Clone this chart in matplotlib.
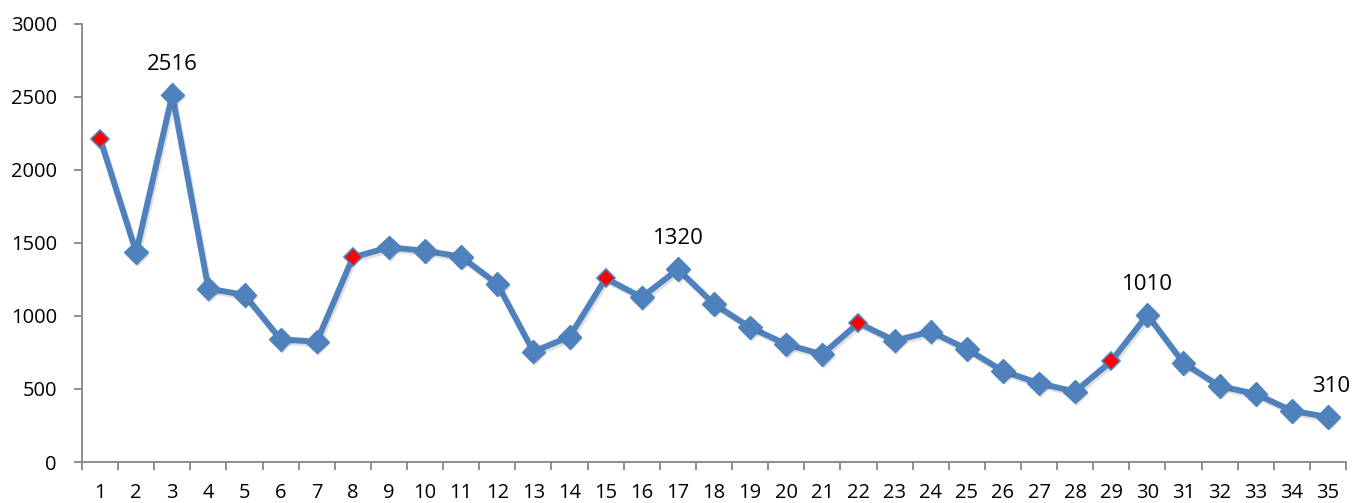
import matplotlib
matplotlib.use("Agg")
import matplotlib.pyplot as plt
import matplotlib.patheffects as pe
import numpy as np

categories = list(range(1, 36))
values = [2215, 1436, 2516, 1187, 1145, 840, 824, 1402, 1470, 1447,
          1406, 1219, 756, 858, 1258, 1128, 1320, 1082, 922, 806,
          737, 952, 831, 893, 774, 623, 539, 482, 690, 1008,
          678, 520, 466, 351, 308]
red_points = [1, 8, 15, 22, 29]
labeled_points = {3: "2516", 17: "1320", 30: "1010", 35: "310"}
yticks = [0, 500, 1000, 1500, 2000, 2500, 3000]

plt.rcParams['font.family'] = ['Open Sans', 'DejaVu Sans']

W, H = 1355, 503
fig = plt.figure(figsize=(W / 100, H / 100), dpi=100)
ax = fig.add_axes([82 / W, 1 - 462 / H, (1346 - 82) / W, (462 - 24) / H])

blue = '#4F81BD'
axis_gray = '#868686'
line_shadow = [pe.SimpleLineShadow(offset=(1.2, -1.8), alpha=0.12, shadow_color='k'), pe.Normal()]
mark_shadow = [pe.SimplePatchShadow(offset=(1.2, -1.8), alpha=0.15), pe.Normal()]

ax.plot(categories, values, color=blue, lw=4.3, solid_joinstyle='round', zorder=2,
        path_effects=line_shadow)
blue_x = [c for c in categories if c not in red_points]
blue_y = [values[c - 1] for c in blue_x]
ax.plot(blue_x, blue_y, ls='none', marker='D', ms=12, mfc=blue, mec=blue, zorder=3,
        path_effects=mark_shadow)
red_y = [values[c - 1] for c in red_points]
ax.plot(red_points, red_y, ls='none', marker='D', ms=9.5, mfc='#FF0000', mec=blue,
        mew=1.2, zorder=4)

for c, txt in labeled_points.items():
    dx = 2 if c == 35 else 0
    ax.annotate(txt, (c, values[c - 1]), xytext=(dx, 22), textcoords='offset points',
                ha='center', va='center', fontsize=16, color='black')

ax.set_xlim(0.5, 35.5)
ax.set_ylim(0, 3000)
ax.set_yticks(yticks)
ax.set_yticklabels([str(v) for v in yticks])
ax.set_xticks(categories)
ax.set_xticklabels([str(c) for c in categories])
ax.set_xticks(np.arange(0.5, 36, 1), minor=True)
ax.tick_params(axis='x', which='major', length=0, pad=15, labelsize=14.5)
ax.tick_params(axis='x', which='minor', length=6, color=axis_gray, width=1.3, direction='out')
ax.tick_params(axis='y', length=6, color=axis_gray, width=1.3, labelsize=14.5, pad=12)

for s in ['top', 'right']:
    ax.spines[s].set_visible(False)
for s in ['left', 'bottom']:
    ax.spines[s].set_color(axis_gray)
    ax.spines[s].set_linewidth(1.3)

fig.savefig('out.png', dpi=100)
